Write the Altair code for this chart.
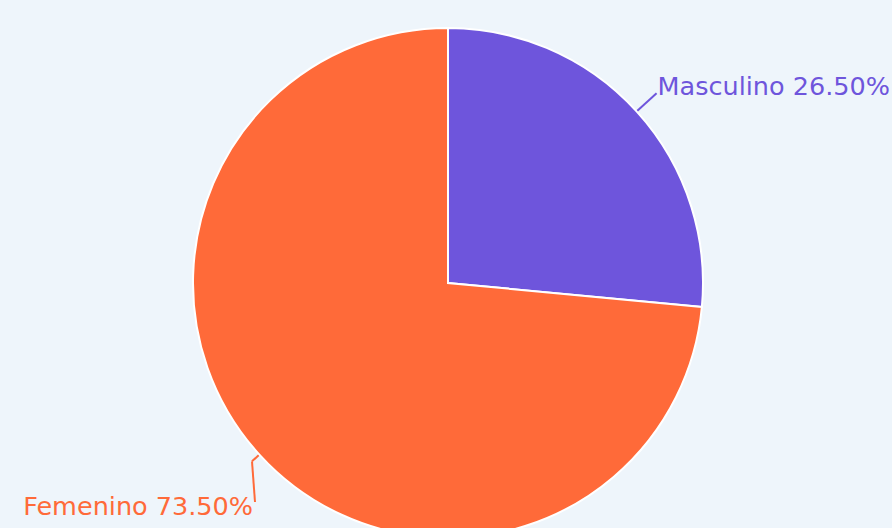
import altair as alt
import pandas as pd

categories = ["Masculino", "Femenino"]
values = [26.5, 73.5]
labels = ["Masculino 26.50%", "Femenino 73.50%"]
colors = ["#6E55DC", "#FF6A39"]

df = pd.DataFrame({"category": categories, "value": values, "label": labels, "order": [0, 1]})

W, H = 892, 528
CX, CY = 448, 283
R = 255
BG = "#EEF5FB"
FONT = "DejaVu Sans"
FS = 25.5
FEM_LABEL = (255, 502)  # anchor of the pushed-down Femenino label

color_scale = alt.Scale(domain=categories, range=colors)

pie = alt.Chart(df).mark_arc(outerRadius=R, stroke="white", strokeWidth=2).encode(
    theta=alt.Theta("value:Q", stack=True),
    color=alt.Color("category:N", scale=color_scale, legend=None),
    order=alt.Order("order:Q"),
    x=alt.value(CX),
    y=alt.value(CY),
)

geo = alt.Chart(df).transform_joinaggregate(
    total="sum(value)"
).transform_window(
    cum="sum(value)", sort=[alt.SortField("order")]
).transform_calculate(
    mid="2*PI*(datum.cum - datum.value/2)/datum.total",
).transform_calculate(
    r1="datum.category == 'Femenino' ? 265 : 282",
).transform_calculate(
    sx=f"{CX} + 256*sin(datum.mid)",
    sy=f"{CY} - 256*cos(datum.mid)",
    bx=f"{CX} + datum.r1*sin(datum.mid)",
    by=f"{CY} - datum.r1*cos(datum.mid)",
).transform_calculate(
    lx=f"datum.category == 'Femenino' ? {FEM_LABEL[0]} : datum.bx",
    ly=f"datum.category == 'Femenino' ? {FEM_LABEL[1]} : datum.by",
)

seg1 = geo.mark_rule(strokeWidth=2).encode(
    x=alt.X("sx:Q", scale=None), y=alt.Y("sy:Q", scale=None),
    x2="bx:Q", y2="by:Q",
    color=alt.Color("category:N", scale=color_scale, legend=None),
)
seg2 = geo.mark_rule(strokeWidth=2).encode(
    x=alt.X("bx:Q", scale=None), y=alt.Y("by:Q", scale=None),
    x2="lx:Q", y2="ly:Q",
    color=alt.Color("category:N", scale=color_scale, legend=None),
)

text_m = geo.transform_filter("datum.category == 'Masculino'").mark_text(
    align="left", baseline="alphabetic", dx=1, dy=2, font=FONT, fontSize=FS
).encode(
    x=alt.X("lx:Q", scale=None), y=alt.Y("ly:Q", scale=None),
    text="label:N",
    color=alt.Color("category:N", scale=color_scale, legend=None),
)
text_f = geo.transform_filter("datum.category == 'Femenino'").mark_text(
    align="right", baseline="alphabetic", dx=-2, dy=13, font=FONT, fontSize=FS
).encode(
    x=alt.X("lx:Q", scale=None), y=alt.Y("ly:Q", scale=None),
    text="label:N",
    color=alt.Color("category:N", scale=color_scale, legend=None),
)

chart = alt.layer(pie, seg1, seg2, text_m, text_f).properties(
    width=W, height=H,
    autosize=alt.AutoSizeParams(type="none"),
    padding=0,
    background=BG,
).configure_view(stroke=None)


class PageTemplate:
    """Wraps Altair's standard HTML template: full-bleed page in the chart's background."""
    def render(self, **kw):
        from altair.utils.html import TEMPLATES
        html = TEMPLATES["standard"].render(**kw)
        style = ("<style>html, body { background: %s; margin: 0; padding: 0; "
                 "overflow: hidden; }</style>" % BG)
        if "<head>" in html:
            return html.replace("<head>", "<head>" + style, 1)
        return style + html


try:
    chart.save("out.html", embed_options={"renderer": "svg", "actions": False}, template=PageTemplate())
except Exception:
    chart.save("out.html", embed_options={"renderer": "svg", "actions": False})
